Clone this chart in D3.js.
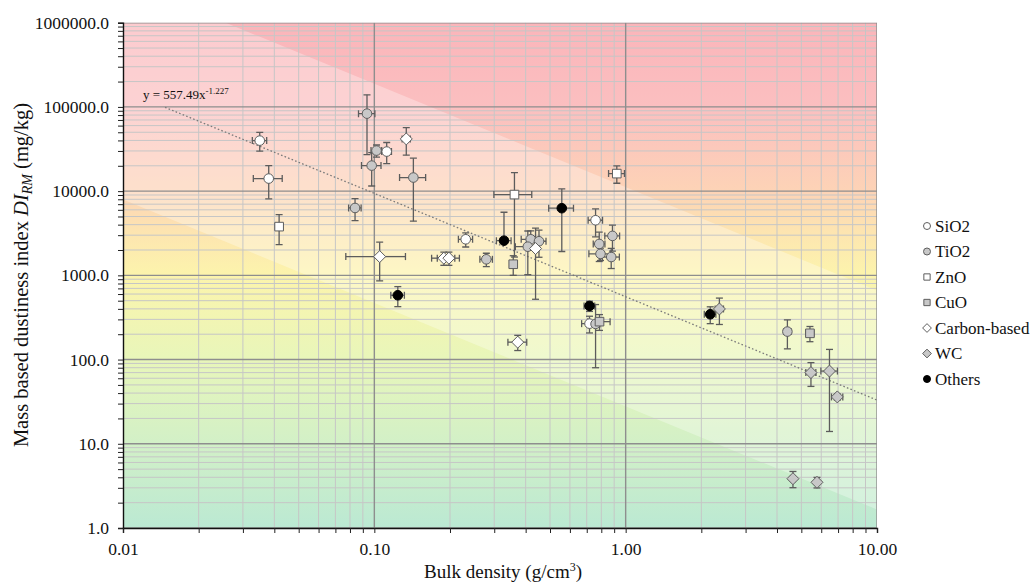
<!DOCTYPE html>
<html>
<head>
<meta charset="utf-8">
<script src="https://cdn.jsdelivr.net/npm/d3@7"></script>
<style>
  body { margin: 0; background: #fff; }
  svg { display: block; font-family: "Liberation Serif", "Times New Roman", serif; }
</style>
</head>
<body>
<svg id="chart" width="1032" height="582"></svg>
<script>
// Each point: [bulk density (g/cm3), DI_RM (mg/kg), density error, DI error]
const sio2 = [
  [0.035, 39800, 0.0023, 10000],
  [0.038, 14100, 0.005, 6000],
  [0.112, 29500, 0.005, 8300],
  [0.231, 2680, 0.015, 510],
  [0.759, 4510, 0.05, 1640],
  [0.718, 267, 0.05, 60]
];
const tio2 = [
  [0.0935, 83200, 0.007, 56000],
  [0.102, 30300, 0.005, 5000],
  [0.0976, 20100, 0.0087, 8600],
  [0.143, 14500, 0.017, 10100],
  [0.0838, 6310, 0.0048, 1850],
  [0.279, 1550, 0.016, 280],
  [0.419, 2680, 0.035, 700],
  [0.452, 2540, 0.03, 900],
  [0.408, 2190, 0.044, 1170],
  [0.886, 2940, 0.06, 1000],
  [0.785, 2360, 0.042, 900],
  [0.794, 1800, 0.08, 300],
  [0.876, 1650, 0.068, 445],
  [0.759, 265, 0.03, 185],
  [4.40, 215, 0.15, 81]
];
const zno = [
  [0.0418, 3790, 0.0015, 1470],
  [0.361, 9100, 0.062, 7450],
  [0.922, 16150, 0.067, 3750]
];
const cuo = [
  [0.357, 1355, 0.01, 355],
  [0.787, 282, 0.08, 60],
  [5.41, 205, 0.2, 42]
];
const carbon = [
  [0.134, 41700, 0.005, 15000],
  [0.105, 1670, 0.028, 810],
  [0.189, 1600, 0.02, 285],
  [0.198, 1600, 0.02, 285],
  [0.438, 2080, 0.01, 1560],
  [0.372, 161, 0.032, 33]
];
const wc = [
  [2.36, 399, 0.09, 138],
  [5.46, 70, 0.25, 22],
  [6.47, 73, 0.49, 59],
  [6.95, 36, 0.36, 3],
  [4.63, 3.85, 0.1, 0.84],
  [5.77, 3.49, 0.1, 0.5]
];
const others = [
  [0.124, 580, 0.0077, 155],
  [0.557, 6270, 0.063, 4350],
  [0.328, 2580, 0.022, 3030],
  [0.718, 433, 0.035, 60],
  [2.17, 345, 0.115, 78]
];

const seriesNames = ["SiO2", "TiO2", "ZnO", "CuO", "Carbon-based", "WC", "Others"];
const seriesData = [sio2, tio2, zno, cuo, carbon, wc, others];
const seriesShapes = ["circle", "circle", "square", "square", "diamond", "diamond", "circle"];
const seriesFills = ["#ffffff", "#c8c8c8", "#ffffff", "#c8c8c8", "#ffffff", "#c8c8c8", "#000000"];

// Power-law fit and the factor that bounds the shaded band around it
const fitCoef = 557.49;
const fitExp = -1.227;
const bandFactor = 20;
const fitStart = 0.0147;

const xTickLabels = ["0.01", "0.10", "1.00", "10.00"];
const yTickLabels = ["1.0", "10.0", "100.0", "1000.0", "10000.0", "100000.0", "1000000.0"];

// Vertical colour ramp (DI value -> colour)
const rampValues = [1e6, 1e5, 1e4, 3e3, 1e3, 1e2, 1e1, 1];
const rampColors = ["#fbb5ba", "#fbbfc0", "#fdd3b6", "#fde6b0", "#fcf4ac", "#e8f6ba", "#d2f0c7", "#bbe9d3"];

const svg = d3.select("#chart");
const L = 123, R = 877, T = 22.7, B = 528;

const x = d3.scaleLog().domain([0.01, 10]).range([L, R]);
const y = d3.scaleLog().domain([1, 1e6]).range([B, T]);

const defs = svg.append("defs");
defs.append("clipPath").attr("id", "plotClip")
  .append("rect").attr("x", L).attr("y", T).attr("width", R - L).attr("height", B - T);

const grad = defs.append("linearGradient").attr("id", "ramp")
  .attr("gradientUnits", "userSpaceOnUse")
  .attr("x1", 0).attr("x2", 0).attr("y1", y(1e6)).attr("y2", y(1));
rampValues.forEach((v, i) => {
  grad.append("stop")
    .attr("offset", (y(v) - y(1e6)) / (y(1) - y(1e6)))
    .attr("stop-color", rampColors[i]);
});

const plot = svg.append("g").attr("clip-path", "url(#plotClip)");
plot.append("rect").attr("x", L).attr("y", T).attr("width", R - L).attr("height", B - T)
  .attr("fill", "url(#ramp)");

// Lighter band between fit*factor and fit/factor
const fit = d => fitCoef * Math.pow(d, fitExp);
const xs = [0.005, 20];
const bandPts = xs.map(d => [x(d), y(fit(d) * bandFactor)])
  .concat(xs.slice().reverse().map(d => [x(d), y(fit(d) / bandFactor)]));
plot.append("path")
  .attr("d", d3.line()(bandPts) + "Z")
  .attr("fill", "#ffffff").attr("fill-opacity", 0.3);

// Gridlines
const minorVals = (lo, hi) => {
  const out = [];
  for (let p = lo; p < hi; p++) for (let m = 2; m <= 9; m++) out.push(m * Math.pow(10, p));
  return out;
};
const xMajor = [0.01, 0.1, 1, 10];
const yMajor = [1, 10, 100, 1e3, 1e4, 1e5, 1e6];
const xMinor = minorVals(-2, 1);
const yMinor = minorVals(0, 6);

plot.append("g").selectAll("line").data(xMinor).join("line")
  .attr("x1", d => x(d)).attr("x2", d => x(d)).attr("y1", T).attr("y2", B)
  .attr("stroke", "#c6c6c6").attr("stroke-width", 1);
plot.append("g").selectAll("line").data(yMinor).join("line")
  .attr("x1", L).attr("x2", R).attr("y1", d => y(d)).attr("y2", d => y(d))
  .attr("stroke", "#c6c6c6").attr("stroke-width", 1);
plot.append("g").selectAll("line").data(xMajor).join("line")
  .attr("x1", d => x(d)).attr("x2", d => x(d)).attr("y1", T).attr("y2", B)
  .attr("stroke", "#8e8e8e").attr("stroke-width", 1.4);
plot.append("g").selectAll("line").data(yMajor).join("line")
  .attr("x1", L).attr("x2", R).attr("y1", d => y(d)).attr("y2", d => y(d))
  .attr("stroke", "#8e8e8e").attr("stroke-width", 1.4);

// Trend line
plot.append("line")
  .attr("x1", x(fitStart)).attr("y1", y(fit(fitStart)))
  .attr("x2", x(10)).attr("y2", y(fit(10)))
  .attr("stroke", "#7a7a7a").attr("stroke-width", 1.3).attr("stroke-dasharray", "1.6,2.2");

const eq = svg.append("text").attr("x", 143).attr("y", 99)
  .attr("font-size", 13).attr("fill", "#111");
eq.append("tspan").text("y = " + fitCoef + "x");
eq.append("tspan").attr("dy", -5).attr("font-size", 9).text(String(fitExp));

// Error bars and markers
const cap = 3.5;
const errColor = "#5c5c5c";
const markerStroke = "#5e5e5e";

function shapePath(shape, s) {
  if (shape === "circle") return d3.symbol(d3.symbolCircle, Math.PI * s * s)();
  if (shape === "square") return d3.symbol(d3.symbolSquare, (2 * s * 0.9) * (2 * s * 0.9))();
  const h = s * 1.25;
  return `M0,${-h}L${h},0L0,${h}L${-h},0Z`;
}

const errLayer = svg.append("g").attr("clip-path", "url(#plotClip)")
  .attr("stroke", errColor).attr("stroke-width", 1.3).attr("fill", "none");
const markLayer = svg.append("g");

seriesData.forEach((data, si) => {
  data.forEach(([dx, dy, ex, ey]) => {
    const cx = x(dx), cy = y(dy);
    const g = errLayer.append("g");
    const yTop = y(dy + ey);
    g.append("line").attr("x1", cx).attr("x2", cx).attr("y1", cy).attr("y2", yTop);
    g.append("line").attr("x1", cx - cap).attr("x2", cx + cap).attr("y1", yTop).attr("y2", yTop);
    if (dy - ey > 0) {
      const yBot = y(dy - ey);
      g.append("line").attr("x1", cx).attr("x2", cx).attr("y1", cy).attr("y2", yBot);
      g.append("line").attr("x1", cx - cap).attr("x2", cx + cap).attr("y1", yBot).attr("y2", yBot);
    }
    const xRight = x(dx + ex);
    g.append("line").attr("x1", cx).attr("x2", xRight).attr("y1", cy).attr("y2", cy);
    g.append("line").attr("x1", xRight).attr("x2", xRight).attr("y1", cy - cap).attr("y2", cy + cap);
    if (dx - ex > 0) {
      const xLeft = x(dx - ex);
      g.append("line").attr("x1", cx).attr("x2", xLeft).attr("y1", cy).attr("y2", cy);
      g.append("line").attr("x1", xLeft).attr("x2", xLeft).attr("y1", cy - cap).attr("y2", cy + cap);
    }
  });
});

seriesData.forEach((data, si) => {
  markLayer.append("g").selectAll("path").data(data).join("path")
    .attr("transform", d => `translate(${x(d[0])},${y(d[1])})`)
    .attr("d", shapePath(seriesShapes[si], 4.8))
    .attr("fill", seriesFills[si])
    .attr("stroke", si === 6 ? "#000" : markerStroke)
    .attr("stroke-width", 1);
});

// Axes
const yAxis = d3.axisLeft(y)
  .tickValues(yMajor.concat(yMinor))
  .tickSize(5).tickPadding(9)
  .tickFormat(d => {
    const i = yMajor.indexOf(d);
    return i >= 0 ? yTickLabels[i] : "";
  });
const yG = svg.append("g").attr("transform", `translate(${L},0)`).call(yAxis);
yG.select(".domain").attr("stroke", "#111").attr("stroke-width", 1.4);
yG.selectAll(".tick line").attr("stroke", "#222");
yG.selectAll("text").attr("font-size", 17.5).attr("fill", "#111")
  .attr("font-family", "Liberation Serif, Times New Roman, serif");

const xAxis = d3.axisBottom(x)
  .tickValues(xMajor.concat(xMinor))
  .tickSize(5).tickPadding(10)
  .tickFormat(d => {
    const i = xMajor.indexOf(d);
    return i >= 0 ? xTickLabels[i] : "";
  });
const xG = svg.append("g").attr("transform", `translate(0,${B})`).call(xAxis);
xG.select(".domain").attr("stroke", "#111").attr("stroke-width", 1.4);
xG.selectAll(".tick line").attr("stroke", "#222");
xG.selectAll("text").attr("font-size", 17.5).attr("fill", "#111")
  .attr("font-family", "Liberation Serif, Times New Roman, serif");

// Axis titles
const xt = svg.append("text").attr("x", 503).attr("y", 578)
  .attr("text-anchor", "middle").attr("font-size", 19).attr("fill", "#111");
xt.append("tspan").text("Bulk density (g/cm");
xt.append("tspan").attr("dy", -7).attr("font-size", 12).text("3");
xt.append("tspan").attr("dy", 7).text(")");

const yt = svg.append("text")
  .attr("transform", "translate(28,275) rotate(-90)")
  .attr("text-anchor", "middle").attr("font-size", 20.5).attr("fill", "#111");
yt.append("tspan").text("Mass based dustiness index ");
yt.append("tspan").attr("font-style", "italic").text("DI");
yt.append("tspan").attr("font-style", "italic").attr("font-size", 14).attr("dy", 4).text("RM");
yt.append("tspan").attr("dy", -4).text(" (mg/kg)");

// Legend
const leg = svg.append("g");
seriesNames.forEach((name, i) => {
  const ly = 226 + i * 25.5;
  leg.append("path")
    .attr("transform", `translate(927,${ly})`)
    .attr("d", shapePath(seriesShapes[i], 3.5))
    .attr("fill", seriesFills[i])
    .attr("stroke", i === 6 ? "#000" : markerStroke).attr("stroke-width", 1);
  leg.append("text").attr("x", 935).attr("y", ly + 5.5)
    .attr("font-size", 17).attr("fill", "#111").text(name);
});
</script>
</body>
</html>
